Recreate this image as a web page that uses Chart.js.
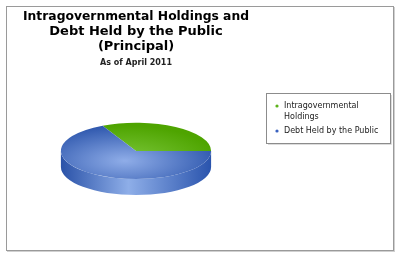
<!DOCTYPE html>
<html>
<head>
<meta charset="utf-8">
<script src="https://cdn.jsdelivr.net/npm/chart.js@4.4.0/dist/chart.umd.min.js"></script>
<style>
  html, body { margin: 0; padding: 0; background: #fff; }
  #wrap { position: relative; width: 400px; height: 257px; }
  #frame { position: absolute; left: 6px; top: 6px; width: 386px; height: 243px; border: 1px solid #9a9a9a; box-shadow: 1px 1px 0 #d0d0d0; }
  canvas { position: absolute; left: 0; top: 0; }
</style>
</head>
<body>
<div id="wrap">
  <div id="frame"></div>
  <canvas id="debtChart" width="400" height="257"></canvas>
</div>
<script>
// data (trillions of dollars, approx.)
const titleLines = ['Intragovernmental Holdings and', 'Debt Held by the Public', '(Principal)'];
const subtitleText = 'As of April 2011';
const categories = ['Intragovernmental Holdings', 'Debt Held by the Public'];
const legendLines = [['Intragovernmental', 'Holdings'], ['Debt Held by the Public']];
const values = [4.62, 9.67];

const total = values.reduce((a, b) => a + b, 0);

// top face colours: [centre, edge]
const topStops = [['#7dc83c', '#4ea400'], ['#8fade8', '#2f58ae']];
const sideStops = [
  ['#3f8a00', '#6cb82a', '#3f8a00'],
  ['#2a52a8', '#8eaee8', '#2a54ad']
];
const legendDots = ['#5cb21a', '#3a62c0'];

function topGradient(c) {
  const chart = c.chart;
  const area = chart.chartArea;
  if (!area) return topStops[c.dataIndex][1];
  const cx = (area.left + area.right) / 2;
  const cy = (area.top + area.bottom) / 2;
  const r = Math.min(area.right - area.left, area.bottom - area.top) / 2;
  const g = chart.ctx.createRadialGradient(cx - 0.15 * r, cy + 0.35 * r, 0, cx - 0.15 * r, cy + 0.35 * r, 1.25 * r);
  g.addColorStop(0, topStops[c.dataIndex][0]);
  g.addColorStop(1, topStops[c.dataIndex][1]);
  return g;
}

const pie3d = {
  id: 'pie3d',
  beforeDatasetsDraw(chart, args, opts) {
    const meta = chart.getDatasetMeta(0);
    if (!meta.data.length) return;
    const first = meta.data[0];
    const cx = first.x, cy = first.y, r = first.outerRadius;
    const ctx = chart.ctx;
    const k = opts.tilt;
    const d = opts.depth / k;
    ctx.save();
    ctx.translate(cx, cy - opts.depth / 2);
    ctx.scale(1, k);
    ctx.translate(-cx, -cy);
    meta.data.forEach((arc, i) => {
      const g = ctx.createLinearGradient(cx - r, 0, cx + r, 0);
      const st = sideStops[i];
      g.addColorStop(0, st[0]);
      g.addColorStop(0.45, st[1]);
      g.addColorStop(1, st[2]);
      [-2 * Math.PI, 0, 2 * Math.PI].forEach(off => {
        const a0 = Math.max(arc.startAngle + off, 0);
        const a1 = Math.min(arc.endAngle + off, Math.PI);
        if (a1 <= a0) return;
        ctx.beginPath();
        ctx.arc(cx, cy, r, a0, a1);
        ctx.arc(cx, cy + d, r, a1, a0, true);
        ctx.closePath();
        ctx.fillStyle = g;
        ctx.fill();
      });
    });
  },
  afterDatasetsDraw(chart) {
    if (chart.getDatasetMeta(0).data.length) chart.ctx.restore();
  }
};

const boxLegend = {
  id: 'boxLegend',
  afterDraw(chart, args, opts) {
    const ctx = chart.ctx;
    ctx.save();
    ctx.strokeStyle = '#8c8c8c';
    ctx.lineWidth = 1;
    ctx.strokeRect(opts.left + 0.5, opts.top + 0.5, opts.width, opts.height);
    ctx.strokeStyle = '#dcdcdc';
    ctx.beginPath();
    ctx.moveTo(opts.left + 2, opts.top + opts.height + 1.5);
    ctx.lineTo(opts.left + opts.width + 1.5, opts.top + opts.height + 1.5);
    ctx.lineTo(opts.left + opts.width + 1.5, opts.top + 2);
    ctx.stroke();
    ctx.font = opts.font;
    ctx.textBaseline = 'middle';
    let y = opts.top + opts.firstY;
    legendLines.forEach((lines, i) => {
      ctx.beginPath();
      ctx.fillStyle = legendDots[i];
      ctx.arc(opts.left + opts.dotX, y, 1.6, 0, Math.PI * 2);
      ctx.fill();
      ctx.fillStyle = '#222';
      lines.forEach((t, j) => {
        ctx.fillText(t, opts.left + opts.textX, y + j * opts.lineH);
      });
      y += (lines.length - 1) * opts.lineH + opts.itemGap;
    });
    ctx.restore();
  }
};

new Chart(document.getElementById('debtChart').getContext('2d'), {
  type: 'pie',
  data: {
    labels: categories,
    datasets: [{
      data: values,
      backgroundColor: topGradient,
      borderWidth: 0,
      hoverOffset: 0
    }]
  },
  options: {
    responsive: false,
    animation: false,
    events: [],
    rotation: 90 - 360 * values[0] / total,
    // width 226 centred on x=136; chart area 150 high centred on y=159
    layout: { padding: { left: 23, right: 151, top: 0, bottom: 23 } },
    plugins: {
      legend: { display: false },
      tooltip: { enabled: false },
      title: {
        display: true,
        text: titleLines,
        color: '#000',
        font: { family: 'DejaVu Sans', size: 13, weight: 'bold', lineHeight: 15 / 13 },
        padding: { top: 9, bottom: 2 }
      },
      subtitle: {
        display: true,
        text: subtitleText,
        color: '#222',
        font: { family: 'DejaVu Sans', size: 8, weight: 'bold', lineHeight: 1.35 },
        padding: { top: 2, bottom: 15 }
      },
      pie3d: { tilt: 0.375, depth: 16 },
      boxLegend: {
        left: 266, top: 93, width: 124, height: 50,
        dotX: 11, textX: 18, firstY: 13, lineH: 11, itemGap: 14,
        font: '8px "DejaVu Sans"'
      }
    }
  },
  plugins: [pie3d, boxLegend]
});
</script>
</body>
</html>
